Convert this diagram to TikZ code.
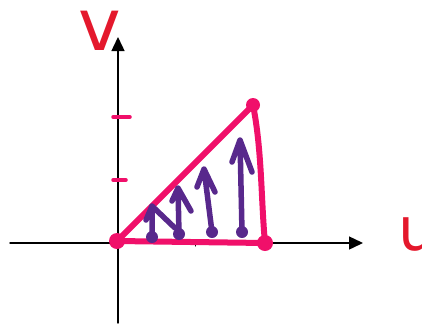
\documentclass[tikz,border=0pt]{standalone}
\usepackage{fontspec}
\newfontfamily\hand{DejaVu Sans}
\usetikzlibrary{arrows.meta}
\definecolor{pinkc}{RGB}{240,16,106}
\definecolor{purp}{RGB}{88,40,140}
\definecolor{redc}{RGB}{228,24,44}
\begin{document}
\begin{tikzpicture}[x=1pt,y=-1pt,line cap=round,line join=round,
  axis/.style={line width=1.4pt,-{Triangle[length=14pt,width=13pt]}},
  tickm/.style={pinkc,line width=3.5pt},
  tri/.style={pinkc,line width=6pt},
  vec/.style={purp,line width=5.5pt},
  lbl/.style={redc,inner sep=0pt}]
\useasboundingbox (0,0) rectangle (422,327);
% axes
\coordinate (xs) at (10,243); \coordinate (xe) at (363,243);
\coordinate (ys) at (118,323); \coordinate (ye) at (118,37);
\draw[axis] (xs) -- (xe);
\draw[axis] (ys) -- (ye);
\draw[line width=1pt] (195,240) -- (195,246);
% ticks
\draw[tickm] (113,117) -- (130,117);
\draw[tickm] (113,180) -- (126,180);
% triangle
\coordinate (A) at (117,241); \coordinate (B) at (253,105); \coordinate (C) at (265,243);
\draw[tri] (A) -- (B) .. controls (262,150) and (261,200) .. (C) -- cycle;
\fill[pinkc] (A) circle (8pt) (B) circle (7pt) (C) circle (8pt);
% vectors
\coordinate (p1) at (152,237); \coordinate (t1) at (152,206);
\coordinate (p2) at (179,234); \coordinate (t2) at (178,188);
\coordinate (p3) at (212,232); \coordinate (t3) at (204,169);
\coordinate (p4) at (242,232); \coordinate (t4) at (240,140);
\draw[vec] (p1) -- (t1) (146,220) -- (t1) -- (175,228);
\draw[vec] (p2) -- (t2) (172,201) -- (t2) -- (191,211);
\draw[vec] (p3) -- (t3) (197,187) -- (t3) -- (215,192);
\draw[vec] (p4) -- (t4) (232,162) -- (t4) -- (252,172);
\fill[purp] (p1) circle (6pt) (p2) circle (6pt) (p3) circle (6pt) (p4) circle (6pt);
% labels
\node[lbl,font=\hand\fontsize{72}{72}\selectfont] (v) at (100,31) {v};
\node[lbl,font=\hand\fontsize{60}{60}\selectfont] (u) at (418,234) {u};
\end{tikzpicture}
\end{document}
